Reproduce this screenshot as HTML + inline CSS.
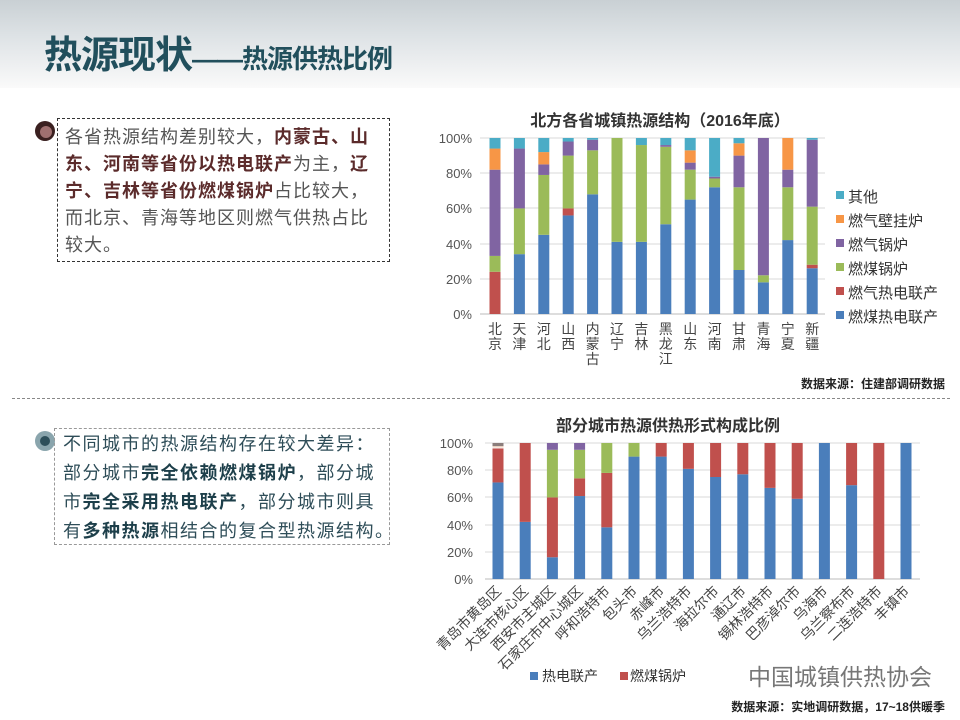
<!DOCTYPE html>
<html><head><meta charset="utf-8">
<style>
body{margin:0;width:960px;height:720px;overflow:hidden;background:#fff;position:relative;font-family:"Liberation Sans","Noto Sans CJK SC",sans-serif;}
.hdr{position:absolute;left:0;top:0;width:960px;height:88px;background:linear-gradient(180deg,#c9d0d4 0%,#dde2e5 40%,#eef0f1 75%,#fafafa 100%);}
.title{position:absolute;left:44px;top:24px;font-size:38px;font-weight:bold;color:#214f5c;letter-spacing:-1px;white-space:nowrap}
.title span{font-size:26px}
.box{position:absolute;border:1px dashed #333;font-size:18px;color:#555;white-space:nowrap;letter-spacing:1px}
.b1{left:57px;top:118px;width:333px;height:144px;line-height:27px;padding:5px 0 0 7px;box-sizing:border-box}
.b1 b{color:#5b2b2b}
.b2{left:54px;top:428px;width:336px;height:117px;line-height:29px;padding:1px 0 0 8px;box-sizing:border-box;border-color:#999;color:#2e4d58;letter-spacing:1.5px}
.b2 b{color:#1d3f4a}
.ic{position:absolute;border-radius:50%}
svg{position:absolute;left:0;top:0}
</style></head><body>
<div class="hdr"></div>
<div class="title">热源现状<span>——热源供热比例</span></div>
<div class="ic" style="left:35px;top:121px;width:20px;height:20px;background:#3a2020"></div>
<div class="ic" style="left:40px;top:126px;width:12px;height:12px;background:#a07070"></div>
<div class="box b1">各省热源结构差别较大，<b>内蒙古、山</b><br><b>东、河南等省份以热电联产</b>为主，<b>辽</b><br><b>宁、吉林等省份燃煤锅炉</b>占比较大，<br>而北京、青海等地区则燃气供热占比<br>较大。</div>
<div style="position:absolute;left:12px;top:398px;width:938px;border-top:1px dashed #888"></div>
<div class="ic" style="left:35px;top:431px;width:20px;height:20px;background:#8aa5ad"></div>
<div class="ic" style="left:40px;top:436px;width:10px;height:10px;background:#2d4f5a"></div>
<div class="box b2">不同城市的热源结构存在较大差异：<br>部分城市<b>完全依赖燃煤锅炉</b>，部分城<br>市<b>完全采用热电联产</b>，部分城市则具<br>有<b>多种热源</b>相结合的复合型热源结构。</div>
<svg width="960" height="720" font-family="Liberation Sans, Noto Sans CJK SC, sans-serif">
<text x="660" y="126" font-size="16" font-weight="bold" text-anchor="middle" fill="#333">北方各省城镇热源结构（2016年底）</text>
<g stroke="#d9d9d9"><line x1="480" x2="825" y1="138" y2="138"/><line x1="480" x2="825" y1="173" y2="173"/><line x1="480" x2="825" y1="208" y2="208"/><line x1="480" x2="825" y1="244" y2="244"/><line x1="480" x2="825" y1="279" y2="279"/><line x1="480" x2="825" y1="314" y2="314" stroke="#bbb"/></g>
<g font-size="13" fill="#555" text-anchor="end"><text x="472" y="143">100%</text><text x="472" y="178">80%</text><text x="472" y="213">60%</text><text x="472" y="249">40%</text><text x="472" y="284">20%</text><text x="472" y="319">0%</text></g>
<g id="topc"></g>
<g font-size="15" fill="#333">
<rect x="836" y="191" width="8" height="8" fill="#4bacc6"/><text x="848" y="202">其他</text>
<rect x="836" y="215" width="8" height="8" fill="#f79646"/><text x="848" y="226">燃气壁挂炉</text>
<rect x="836" y="239" width="8" height="8" fill="#8064a2"/><text x="848" y="250">燃气锅炉</text>
<rect x="836" y="263" width="8" height="8" fill="#9bbb59"/><text x="848" y="274">燃煤锅炉</text>
<rect x="836" y="287" width="8" height="8" fill="#c0504d"/><text x="848" y="298">燃气热电联产</text>
<rect x="836" y="311" width="8" height="8" fill="#4a7ebb"/><text x="848" y="322">燃煤热电联产</text>
</g>
<text x="945" y="388" font-size="12" font-weight="bold" text-anchor="end" fill="#222">数据来源：住建部调研数据</text>
<text x="668" y="431" font-size="16" font-weight="bold" text-anchor="middle" fill="#333">部分城市热源供热形式构成比例</text>
<g stroke="#d9d9d9"><line x1="485" x2="920" y1="443" y2="443"/><line x1="485" x2="920" y1="470" y2="470"/><line x1="485" x2="920" y1="497" y2="497"/><line x1="485" x2="920" y1="525" y2="525"/><line x1="485" x2="920" y1="552" y2="552"/><line x1="485" x2="920" y1="579" y2="579" stroke="#bbb"/></g>
<g font-size="13" fill="#555" text-anchor="end"><text x="473" y="448">100%</text><text x="473" y="475">80%</text><text x="473" y="502">60%</text><text x="473" y="530">40%</text><text x="473" y="557">20%</text><text x="473" y="584">0%</text></g>
<g id="botc"></g>
<g font-size="14" fill="#333"><rect x="530" y="672" width="8" height="8" fill="#4a7ebb"/><text x="542" y="681">热电联产</text><rect x="620" y="672" width="8" height="8" fill="#c0504d"/><text x="630" y="681">燃煤锅炉</text></g>
<text x="748" y="685" font-size="23" fill="#777">中国城镇供热协会</text>
<text x="945" y="711" font-size="12" font-weight="bold" text-anchor="end" fill="#222">数据来源：实地调研数据，17~18供暖季</text>
</svg>
<script>
(function(){
var C=["#4a7ebb","#c0504d","#9bbb59","#8064a2","#f79646","#4bacc6"],ns="http://www.w3.org/2000/svg";
function R(g,x,y,w,h,f){var r=document.createElementNS(ns,"rect");r.setAttribute("x",x);r.setAttribute("y",y);r.setAttribute("width",w);r.setAttribute("height",h);r.setAttribute("fill",f);g.appendChild(r);}
function T(g,x,y,s,t,tr,a){var e=document.createElementNS(ns,"text");e.setAttribute("x",x);e.setAttribute("y",y);e.setAttribute("font-size",s);e.setAttribute("fill","#444");if(tr)e.setAttribute("transform",tr);if(a)e.setAttribute("text-anchor",a);e.textContent=t;g.appendChild(e);}
var td=[["北京",[0,24,9,49,12,6]],["天津",[34,0,26,34,0,6]],["河北",[45,0,34,6,7,8]],["山西",[56,4,30,8,0,2]],["内蒙古",[68,0,25,6,0,1]],["辽宁",[41,0,59,0,0,0]],["吉林",[41,0,55,0,0,4]],["黑龙江",[51,0,44,1,0,4]],["山东",[65,0,17,4,7,7]],["河南",[72,0,5,1,0,22]],["甘肃",[25,0,47,18,7,3]],["青海",[18,0,4,78,0,0]],["宁夏",[42,0,30,10,18,0]],["新疆",[26,2,33,38,0,1]]];
var g=document.getElementById("topc");
td.forEach(function(d,i){var cx=495+i*24.4,y=314;d[1].forEach(function(v,k){var h=v*1.76;y-=h;if(h>0)R(g,cx-5.5,y,11,h,C[k]);});
 d[0].split("").forEach(function(c,j){T(g,cx,334+j*15,14,c,null,"middle");});});
var bd=[["青岛市黄岛区",[71,25,0,0],1],["大连市核心区",[42,58,0,0]],["西安市主城区",[16,44,35,5]],["石家庄市中心城区",[61,13,21,5]],["呼和浩特市",[38,40,22,0]],["包头市",[90,0,10,0]],["赤峰市",[90,10,0,0]],["乌兰浩特市",[81,19,0,0]],["海拉尔市",[75,25,0,0]],["通辽市",[77,23,0,0]],["锡林浩特市",[67,33,0,0]],["巴彦淖尔市",[59,41,0,0]],["乌海市",[100,0,0,0]],["乌兰察布市",[69,31,0,0]],["二连浩特市",[0,100,0,0]],["丰镇市",[100,0,0,0]]];
var g2=document.getElementById("botc");
bd.forEach(function(d,i){var cx=498+i*27.2,y=579;d[1].forEach(function(v,k){var h=v*1.36;y-=h;if(h>0)R(g2,cx-5.5,y,11,h,C[k]);});
 if(d[2]){R(g2,cx-5.5,443,11,3,"#8b7d7b");R(g2,cx-5.5,446,11,1.5,"#e8d0c0");}
 T(g2,cx+4,592,14,d[0],"rotate(-45 "+(cx+4)+" 592)","end");});
})();
</script>
</body></html>
